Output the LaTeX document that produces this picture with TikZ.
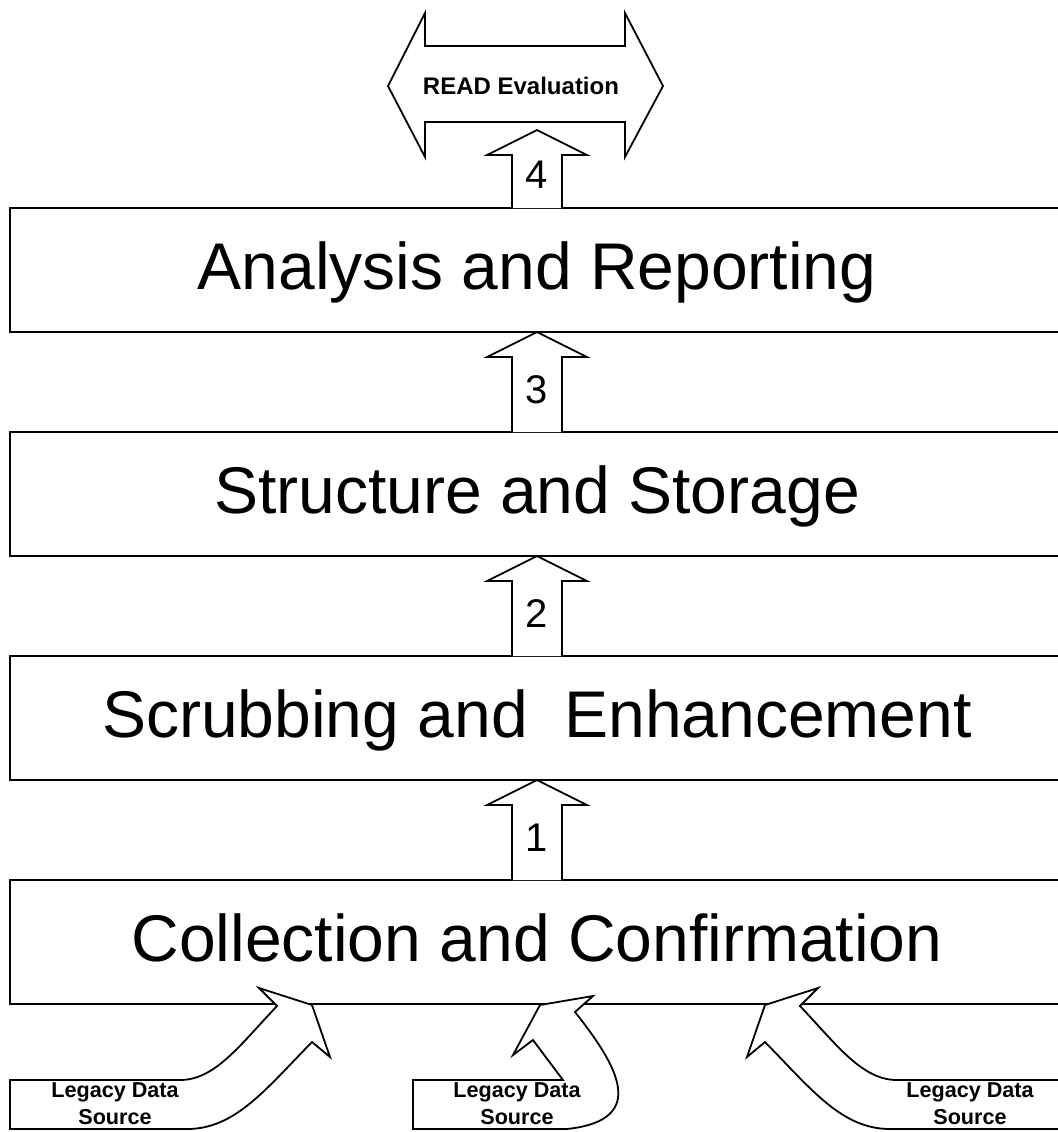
\documentclass[tikz,border=0pt]{standalone}
\usepackage{fontspec}
\setmainfont{Liberation Sans}
\usepackage{tikz}
\usetikzlibrary{positioning}

\tikzset{
  stage/.style={rectangle, draw, line width=0.9pt, outer sep=0pt, inner sep=0pt,
    minimum width=527pt, minimum height=62pt,
    font=\fontsize{33}{40}\selectfont, text height=26pt, text depth=6.5pt},
  blockarrow/.style={draw, fill=white, line width=0.9pt, line join=miter},
  stepnum/.style={anchor=base, font=\fontsize{20}{24}\selectfont},
  legacy/.style={align=center, inner sep=0pt, font=\fontsize{10.8}{13.5}\selectfont\bfseries}
}

\begin{document}
\begin{tikzpicture}[x=0.5pt, y=-0.5pt, node distance=50pt]
\useasboundingbox[fill=white] (0,0) rectangle (1058,1132);

% the four stages
\node (collect) [stage] at (537,942) {Collection and Confirmation};
\node (scrub) [stage, above=of collect] {Scrubbing and\ \ Enhancement};
\node (store) [stage, above=of scrub] {Structure and Storage};
\node (report) [stage, above=of store] {Analysis and Reporting};

% arrows between the stages
\draw [blockarrow] ([xshift=-12.5pt]collect.north) -- ++(0,-75) -- ++(-25,0) -- (scrub.south) -- ++(50,25) -- ++(-25,0) -- ++(0,75);
\draw [blockarrow] ([xshift=-12.5pt]scrub.north) -- ++(0,-75) -- ++(-25,0) -- (store.south) -- ++(50,25) -- ++(-25,0) -- ++(0,75);
\draw [blockarrow] ([xshift=-12.5pt]store.north) -- ++(0,-75) -- ++(-25,0) -- (report.south) -- ++(50,25) -- ++(-25,0) -- ++(0,75);
\draw [blockarrow] ([xshift=-12.5pt]report.north) -- ++(0,-53) -- ++(-25,0) -- ++(50,-25) -- ++(50,25) -- ++(-25,0) -- ++(0,53);
\node (num1) [stepnum] at ([yshift=14.5pt]collect.north) {1};
\node (num2) [stepnum] at ([yshift=14.5pt]scrub.north) {2};
\node (num3) [stepnum] at ([yshift=14.5pt]store.north) {3};
\node (num4) [stepnum] at ([yshift=10pt]report.north) {4};

% evaluation
\draw [blockarrow] (388,86) -- (425,13) -- (425,46) -- (625,46) -- (625,13) -- (663,86)
  -- (625,157) -- (625,122) -- (425,122) -- (425,157) -- cycle;
\node (read) at (521,86) {\fontsize{12}{14}\selectfont\bfseries READ Evaluation};

% legacy sources
\draw [blockarrow] (10,1080) -- (180,1080) .. controls (215,1080) and (240,1045) .. (277,1006)
  -- (259,988) -- (312,1005) -- (330,1057) -- (312,1042)
  .. controls (265,1090) and (235,1129) .. (187,1129) -- (10,1129) -- cycle;
\draw [blockarrow] (413,1080) -- (563,1080) -- (533,1040) -- (513,1055) -- (540,1005)
  -- (593,996) -- (575,1012) .. controls (617,1065) and (650,1120) .. (567,1129)
  -- (413,1129) -- cycle;
\draw [blockarrow] (1070,1080) -- (897,1080) .. controls (862,1080) and (837,1045) .. (800,1006)
  -- (818,988) -- (765,1005) -- (747,1057) -- (765,1042)
  .. controls (812,1090) and (842,1129) .. (890,1129) -- (1070,1129) -- cycle;
\node (src1) [legacy] at (115,1104) {Legacy Data\\Source};
\node (src2) [legacy] at (517,1104) {Legacy Data\\Source};
\node (src3) [legacy] at (970,1104) {Legacy Data\\Source};
\end{tikzpicture}
\end{document}
